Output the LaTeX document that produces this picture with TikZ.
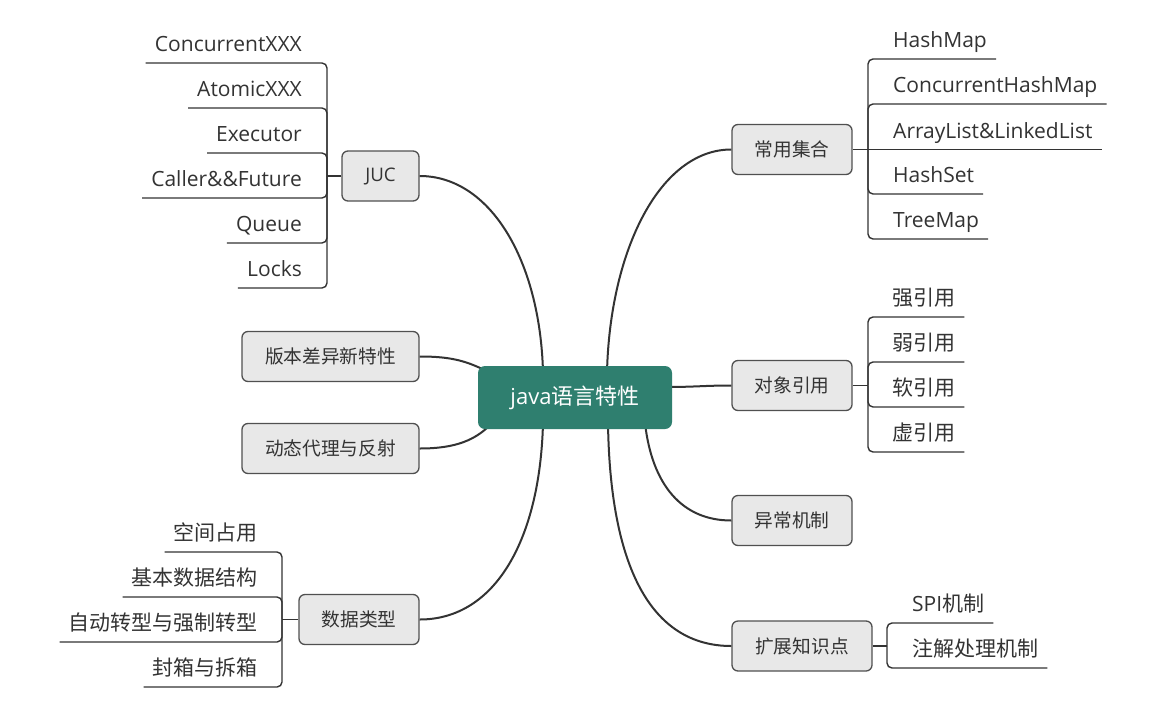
\documentclass[tikz,border=0pt]{standalone}
\usepackage{fontspec}
\setmainfont{Open Sans}
\newfontfamily\cjk{Noto Sans CJK SC}
\definecolor{boxgray}{HTML}{E8E8E8}
\definecolor{bordergray}{HTML}{505050}
\definecolor{linegray}{HTML}{333333}
\definecolor{txtgray}{HTML}{333333}
\definecolor{teal}{HTML}{2F7F6F}
\begin{document}
\begin{tikzpicture}[x=1pt,y=-1pt,
  branch/.style={draw=bordergray, fill=boxgray, line width=1.3pt, rounded corners=6pt,
    minimum height=50pt, inner sep=0pt, text=txtgray, font=\fontsize{18.7}{22}\selectfont},
  central/.style={fill=teal, rounded corners=7pt, minimum width=194pt, minimum height=63pt,
    inner sep=0pt, text=white, font=\fontsize{22}{26}\selectfont},
  leaf/.style={inner xsep=9pt, inner ysep=6pt, text height=16pt, text depth=5pt,
    text=txtgray, font=\fontsize{21}{25}\selectfont},
  mainline/.style={draw=linegray, line width=2pt},
  leafline/.style={draw=linegray, line width=1.4pt, rounded corners=5pt}]
\useasboundingbox[fill=white] (0,0) rectangle (1155,712);

% branch boxes
\node[branch, minimum width=77pt]  (juc) at (380.5,176) {JUC};
\node[branch, minimum width=177pt] (ver) at (330.5,356.5) {\cjk 版本差异新特性};
\node[branch, minimum width=177pt] (dyn) at (330.5,448.5) {\cjk 动态代理与反射};
\node[branch, minimum width=120pt] (dat) at (359,619.5) {\cjk 数据类型};
\node[branch, minimum width=120pt] (col) at (792,149.5) {\cjk 常用集合};
\node[branch, minimum width=120pt] (ref) at (792,385.5) {\cjk 对象引用};
\node[branch, minimum width=120pt] (exc) at (792,520.5) {\cjk 异常机制};
\node[branch, minimum width=140pt] (ext) at (802,646) {\cjk 扩展知识点};

% end points on the central node
\coordinate (cJ) at (543,372);
\coordinate (cV) at (492,374);
\coordinate (cD) at (492,423);
\coordinate (cT) at (543,423);
\coordinate (cC) at (607,372);
\coordinate (cR) at (666,387);
\coordinate (cE) at (645,423);
\coordinate (cX) at (608,423);

% main curves
\draw[mainline] (juc.east) .. controls (490,176) and (540,260) .. (cJ);
\draw[mainline] (col.west) .. controls (660,149.5) and (610,250) .. (cC);
\draw[mainline] (ver.east) .. controls (452,356.5) and (468,361) .. (cV);
\draw[mainline] (dyn.east) .. controls (456,448.5) and (476,440) .. (cD);
\draw[mainline] (dat.east) .. controls (495,619.5) and (540,540) .. (cT);
\draw[mainline] (ref.west) .. controls (705,385.5) and (695,387) .. (cR);
\draw[mainline] (exc.west) .. controls (682,520.5) and (652,485) .. (cE);
\draw[mainline] (ext.west) .. controls (650,646) and (610,565) .. (cX);

\node[central] (c) at (575,397.5) {java{\cjk 语言特性}};

% JUC leaves
\coordinate (jJ) at (327,176);
\node[leaf, anchor=south east] (j1) at (311,63)  {ConcurrentXXX};
\node[leaf, anchor=south east] (j2) at (311,108) {AtomicXXX};
\node[leaf, anchor=south east] (j3) at (311,153) {Executor};
\node[leaf, anchor=south east] (j4) at (311,198) {Caller\&\&Future};
\node[leaf, anchor=south east] (j5) at (311,243) {Queue};
\node[leaf, anchor=south east] (j6) at (311,288) {Locks};
\draw[leafline] (juc.west) -- (jJ);
\foreach \n in {j1,j2,j3,j4,j5,j6}
  \draw[leafline] (jJ) |- (\n.south east) -- (\n.south west);

% data type leaves
\coordinate (jD) at (282,619.5);
\node[leaf, anchor=south east] (d1) at (267,552) {\cjk 空间占用};
\node[leaf, anchor=south east] (d2) at (267,597) {\cjk 基本数据结构};
\node[leaf, anchor=south east] (d3) at (267,642) {\cjk 自动转型与强制转型};
\node[leaf, anchor=south east] (d4) at (267,687) {\cjk 封箱与拆箱};
\draw[leafline] (dat.west) -- (jD);
\foreach \n in {d1,d2,d3,d4}
  \draw[leafline] (jD) |- (\n.south east) -- (\n.south west);

% collection leaves
\coordinate (jC) at (868,149.5);
\node[leaf, anchor=south west] (h1) at (884,59)    {HashMap};
\node[leaf, anchor=south west] (h2) at (884,104)   {ConcurrentHashMap};
\node[leaf, anchor=south west] (h3) at (884,149.5) {ArrayList\&LinkedList};
\node[leaf, anchor=south west] (h4) at (884,194)   {HashSet};
\node[leaf, anchor=south west] (h5) at (884,239)   {TreeMap};
\draw[leafline] (col.east) -- (jC);
\foreach \n in {h1,h2,h4,h5}
  \draw[leafline] (jC) |- (\n.south west) -- (\n.south east);
\draw[leafline] (jC) -- (h3.south west) -- (h3.south east);

% reference leaves
\coordinate (jR) at (868,385.5);
\node[leaf, anchor=south west] (r1) at (883,317) {\cjk 强引用};
\node[leaf, anchor=south west] (r2) at (883,362) {\cjk 弱引用};
\node[leaf, anchor=south west] (r3) at (883,407) {\cjk 软引用};
\node[leaf, anchor=south west] (r4) at (883,452) {\cjk 虚引用};
\draw[leafline] (ref.east) -- (jR);
\foreach \n in {r1,r2,r3,r4}
  \draw[leafline] (jR) |- (\n.south west) -- (\n.south east);

% extension leaves
\coordinate (jX) at (887,646);
\node[leaf, anchor=south west] (e1) at (903,623) {SPI{\cjk 机制}};
\node[leaf, anchor=south west] (e2) at (903,668) {\cjk 注解处理机制};
\draw[leafline] (ext.east) -- (jX);
\foreach \n in {e1,e2}
  \draw[leafline] (jX) |- (\n.south west) -- (\n.south east);
\end{tikzpicture}
\end{document}
